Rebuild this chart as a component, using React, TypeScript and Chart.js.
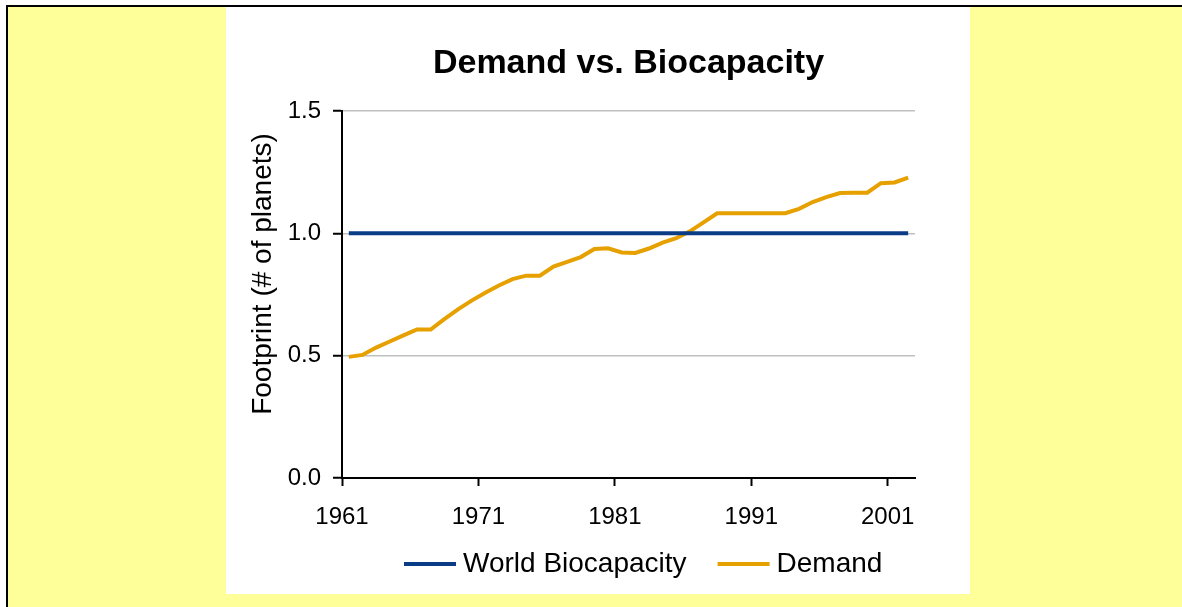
import React, { useEffect, useRef } from 'react';
import { Chart, registerables } from 'chart.js';

Chart.register(...registerables);

const years = [
  1961, 1962, 1963, 1964, 1965, 1966, 1967, 1968, 1969, 1970,
  1971, 1972, 1973, 1974, 1975, 1976, 1977, 1978, 1979, 1980,
  1981, 1982, 1983, 1984, 1985, 1986, 1987, 1988, 1989, 1990,
  1991, 1992, 1993, 1994, 1995, 1996, 1997, 1998, 1999, 2000,
  2001, 2002,
];

const demand = [
  0.495, 0.503, 0.533, 0.558, 0.583, 0.607, 0.607, 0.649, 0.689, 0.725,
  0.757, 0.787, 0.813, 0.827, 0.827, 0.864, 0.883, 0.903, 0.936, 0.939,
  0.922, 0.920, 0.938, 0.962, 0.980, 1.008, 1.045, 1.082, 1.082, 1.082,
  1.082, 1.082, 1.082, 1.100, 1.128, 1.148, 1.165, 1.166, 1.166, 1.205,
  1.208, 1.228,
];

const worldBiocapacity = [
  1.0, 1.0, 1.0, 1.0, 1.0, 1.0, 1.0, 1.0, 1.0, 1.0,
  1.0, 1.0, 1.0, 1.0, 1.0, 1.0, 1.0, 1.0, 1.0, 1.0,
  1.0, 1.0, 1.0, 1.0, 1.0, 1.0, 1.0, 1.0, 1.0, 1.0,
  1.0, 1.0, 1.0, 1.0, 1.0, 1.0, 1.0, 1.0, 1.0, 1.0,
  1.0, 1.0,
];

const xTickLabels = ['1961', '1971', '1981', '1991', '2001'];
const yTickValues = [0, 0.5, 1.0, 1.5];
const seriesNames = ['World Biocapacity', 'Demand'];
const chartTitle = 'Demand vs. Biocapacity';
const yAxisTitle = 'Footprint (# of planets)';

const FONT = '"Liberation Sans", Arial, Helvetica, sans-serif';
const BLUE = '#0B3D86';
const ORANGE = '#E6A000';

const overlayPlugin = {
  id: 'excelOverlay',
  afterDraw(chart: any) {
    const { ctx, chartArea } = chart;
    // y-axis title
    ctx.save();
    ctx.fillStyle = '#000';
    ctx.font = `28px ${FONT}`;
    ctx.textAlign = 'center';
    ctx.textBaseline = 'middle';
    ctx.translate(chartArea.left - 79, chartArea.top + 163);
    ctx.rotate(-Math.PI / 2);
    ctx.fillText(yAxisTitle, 0, 0);
    ctx.restore();

    // legend
    ctx.save();
    ctx.font = `28px ${FONT}`;
    ctx.textBaseline = 'middle';
    ctx.textAlign = 'left';
    let x = chartArea.left + 62;
    const y = chartArea.bottom + 86;
    chart.data.datasets.forEach((ds: any) => {
      ctx.strokeStyle = ds.borderColor;
      ctx.lineWidth = 4;
      ctx.beginPath();
      ctx.moveTo(x, y);
      ctx.lineTo(x + 52, y);
      ctx.stroke();
      x += 52 + 7;
      ctx.fillStyle = '#000';
      ctx.fillText(ds.label, x, y);
      x += ctx.measureText(ds.label).width + 31;
    });
    ctx.restore();
  },
};

export default function App() {
  const canvasRef = useRef<HTMLCanvasElement | null>(null);

  useEffect(() => {
    const canvas = canvasRef.current;
    if (!canvas) return;
    const chart = new Chart(canvas, {
      type: 'line',
      data: {
        datasets: [
          {
            label: seriesNames[0],
            data: years.map((yr, i) => ({ x: yr, y: worldBiocapacity[i] })),
            borderColor: BLUE,
            backgroundColor: BLUE,
            borderWidth: 4,
            pointRadius: 0,
            tension: 0,
            fill: false,
          },
          {
            label: seriesNames[1],
            data: years.map((yr, i) => ({ x: yr, y: demand[i] })),
            borderColor: ORANGE,
            backgroundColor: ORANGE,
            borderWidth: 4,
            pointRadius: 0,
            tension: 0,
            fill: false,
          },
        ],
      },
      options: {
        responsive: false,
        animation: false,
        devicePixelRatio: 1,
        layout: { padding: { left: 0, right: 55, top: 0, bottom: 66 } },
        plugins: {
          legend: { display: false },
          tooltip: { enabled: false },
          title: {
            display: true,
            text: chartTitle,
            fullSize: false,
            color: '#000',
            font: { family: FONT, size: 34, weight: 'bold' },
            padding: { top: 36, bottom: 27.2 },
          },
        },
        scales: {
          x: {
            type: 'linear',
            min: 1960.5,
            max: 2002.5,
            afterBuildTicks: (s: any) => {
              s.ticks = xTickLabels.map((l) => ({ value: Number(l) - 0.5 }));
            },
            afterFit: (s: any) => {
              s.height = 50;
            },
            ticks: {
              callback: (_v: any, i: number) => xTickLabels[i],
              color: '#000',
              font: { family: FONT, size: 24 },
              padding: 17,
              maxRotation: 0,
              autoSkip: false,
            },
            grid: {
              drawOnChartArea: false,
              drawTicks: true,
              tickLength: 8,
              tickColor: '#000',
              tickWidth: 2,
            },
            border: { color: '#000', width: 2 },
          },
          y: {
            min: 0,
            max: 1.5,
            afterBuildTicks: (s: any) => {
              s.ticks = yTickValues.map((v) => ({ value: v }));
            },
            afterFit: (s: any) => {
              s.width = 116;
            },
            ticks: {
              callback: (v: any) => Number(v).toFixed(1),
              color: '#000',
              font: { family: FONT, size: 24 },
              padding: 12,
            },
            grid: {
              color: '#c0c0c0',
              lineWidth: 1.5,
              tickColor: '#000',
              tickLength: 9,
              tickWidth: 2,
            },
            border: { color: '#000', width: 2 },
          },
        },
      },
      plugins: [overlayPlugin],
    } as any);
    return () => chart.destroy();
  }, []);

  return (
    <div
      style={{
        position: 'fixed',
        left: 0,
        top: 0,
        width: 1182,
        height: 607,
        background: '#fff',
        overflow: 'hidden',
      }}
    >
      <div
        style={{
          position: 'absolute',
          left: 6,
          top: 5,
          right: 0,
          bottom: 0,
          background: '#FFFF99',
          borderTop: '2px solid #000',
          borderLeft: '2px solid #000',
        }}
      />
      <div
        style={{
          position: 'absolute',
          left: 226,
          top: 7,
          width: 744,
          height: 587,
          background: '#fff',
        }}
      >
        <canvas
          ref={canvasRef}
          width={744}
          height={587}
          style={{ display: 'block', width: 744, height: 587 }}
        />
      </div>
    </div>
  );
}
